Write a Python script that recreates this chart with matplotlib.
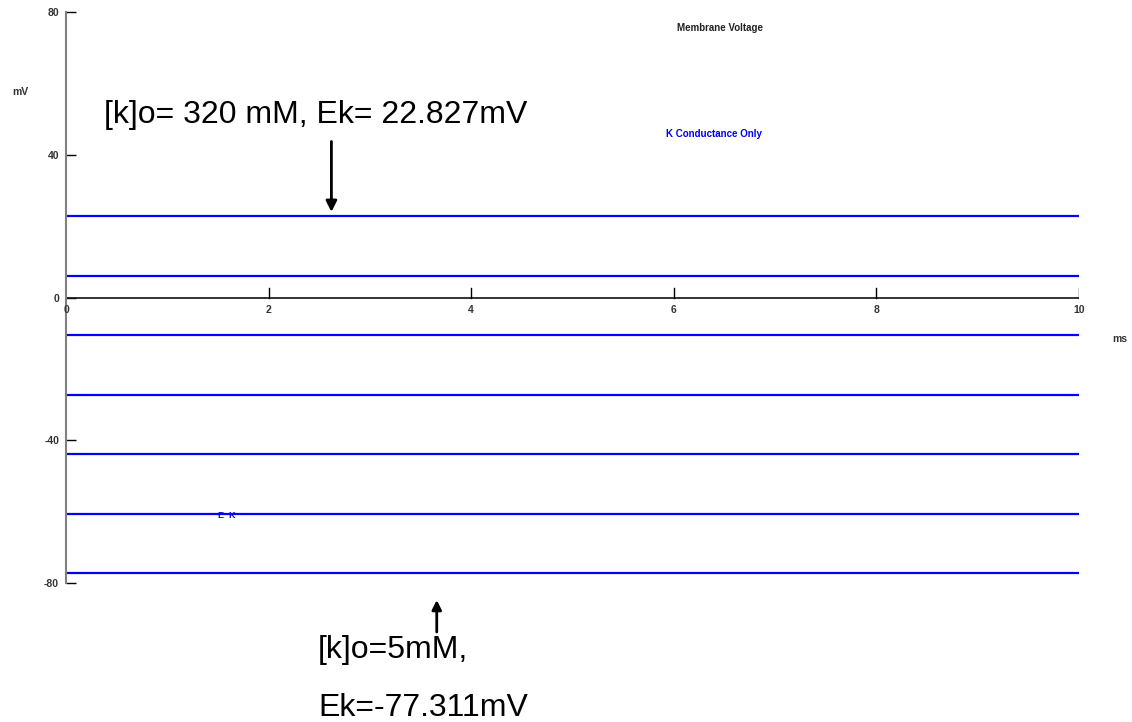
import matplotlib.pyplot as plt

# Ek traces (mV), [k]o from 5 mM to 320 mM
ek_values = [-77.311, -60.62, -43.93, -27.24, -10.55, 6.14, 22.827]
t_range = [0, 10]
x_ticks = [0, 2, 4, 6, 8, 10]
y_ticks = [-80, -40, 0, 40, 80]

plt.rcParams['font.family'] = ['Liberation Sans', 'DejaVu Sans']

fig = plt.figure(figsize=(11.32, 7.22), dpi=100)
ax = fig.add_axes([66 / 1132, 1 - 583 / 722, (1079 - 66) / 1132, 571 / 722])

for ek in ek_values:
    ax.plot(t_range, [ek, ek], color='#0000ff', lw=1.6)

ax.set_xlim(0, 10)
ax.set_ylim(-80, 80)

# axis styling
for side in ['top', 'right', 'bottom']:
    ax.spines[side].set_visible(False)
ax.spines['left'].set_color('#808080')
ax.spines['left'].set_linewidth(1.5)
ax.axhline(0, color='#111111', lw=1.2)

ax.set_yticks(y_ticks)
ax.set_yticklabels([str(v) for v in y_ticks], fontsize=7.5, fontweight='bold', color='#333333')
ax.tick_params(axis='y', direction='in', length=7.5, width=1, color='black', pad=5)
ax.set_xticks([])
for xt in x_ticks:
    if xt > 0:
        ax.plot([xt, xt], [0, 2.8], color='black', lw=1)
    ax.text(xt, -3.4, str(xt), fontsize=7.5, fontweight='bold', color='#333333',
            ha='center', va='center')

fig.text(1120 / 1132, 1 - 339 / 722, 'ms', fontsize=7.5, fontweight='bold', color='#333333',
         ha='center', va='center')
fig.text(20 / 1132, 1 - 92 / 722, 'mV', fontsize=7.5, fontweight='bold', color='#333333',
         ha='center', va='center')

fig.text(720 / 1132, 1 - 28 / 722, 'Membrane Voltage', fontsize=7, fontweight='bold',
         color='#222222', ha='center', va='center')
fig.text(714 / 1132, 1 - 134 / 722, 'K Conductance Only', fontsize=7, fontweight='bold',
         color='#0000ff', ha='center', va='center')
fig.text(227 / 1132, 1 - 515 / 722, 'E  K', fontsize=6.5, fontweight='bold',
         color='#0000ff', ha='center', va='center')

# annotations
fig.text(104 / 1132, 1 - 115 / 722, '[k]o= 320 mM, Ek= 22.827mV', fontsize=23,
         color='black', ha='left', va='center')
ax.annotate('', xy=(2.62, 23.2), xytext=(2.62, 44.5),
            arrowprops=dict(arrowstyle='-|>', color='black', lw=2, mutation_scale=16))

fig.text(318 / 1132, 1 - 650 / 722, '[k]o=5mM,', fontsize=23,
         color='black', ha='left', va='center')
fig.text(318 / 1132, 1 - 708 / 722, 'Ek=-77.311mV', fontsize=23,
         color='black', ha='left', va='center')
ax.annotate('', xy=(3.66, -84), xytext=(3.66, -94.5),
            arrowprops=dict(arrowstyle='-|>', color='black', lw=2, mutation_scale=14),
            annotation_clip=False)

plt.savefig('out.png', dpi=100)
plt.close()
